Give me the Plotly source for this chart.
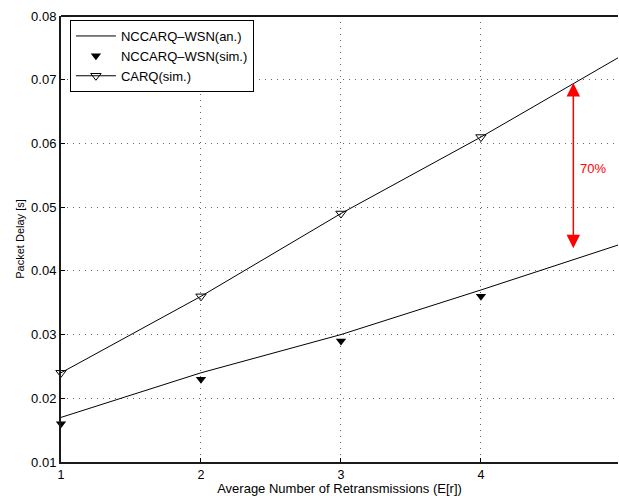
import plotly.graph_objects as go

x_vals = [1, 2, 3, 4, 5]
nccarq_an = [0.017, 0.024, 0.030, 0.037, 0.0442]
nccarq_sim = [0.016, 0.023, 0.029, 0.036, 0.043]
carq_sim = [0.024, 0.036, 0.049, 0.061, 0.0737]

x_ticks = [1, 2, 3, 4]
y_ticks = [0.01, 0.02, 0.03, 0.04, 0.05, 0.06, 0.07, 0.08]
y_tick_text = ["0.01", "0.02", "0.03", "0.04", "0.05", "0.06", "0.07", "0.08"]

arrow_x = 4.66
arrow_top = 0.0695
arrow_bottom = 0.0433
label_x = 4.80
label_y = 0.0561
label_text = "70%"

FONT = "Liberation Sans, Arial, Helvetica, sans-serif"

fig = go.Figure()
fig.add_trace(go.Scatter(
    x=x_vals, y=nccarq_an, mode="lines", name="NCCARQ–WSN(an.)",
    line=dict(color="black", width=1)))
fig.add_trace(go.Scatter(
    x=x_vals, y=nccarq_sim, mode="markers", name="NCCARQ–WSN(sim.)",
    marker=dict(symbol="triangle-down", size=9, color="black"),
    cliponaxis=False))
fig.add_trace(go.Scatter(
    x=x_vals, y=carq_sim, mode="lines+markers", name="CARQ(sim.)",
    line=dict(color="black", width=1),
    marker=dict(symbol="triangle-down-open", size=9, color="black",
                line=dict(color="black", width=1)),
    cliponaxis=False))

fig.add_annotation(
    x=arrow_x, y=arrow_top, ax=arrow_x, ay=arrow_bottom,
    xref="x", yref="y", axref="x", ayref="y",
    showarrow=True, arrowside="end+start", arrowhead=2,
    arrowsize=1.8, arrowwidth=1.5, arrowcolor="#ff0000", text="")
fig.add_annotation(
    x=label_x, y=label_y, xref="x", yref="y", text=label_text,
    showarrow=False, font=dict(color="#ff0000", size=13, family=FONT))

fig.update_layout(
    width=619, height=496,
    margin=dict(l=61, r=1, t=16, b=34),
    paper_bgcolor="white", plot_bgcolor="white",
    font=dict(family=FONT, size=13, color="black"),
    showlegend=True,
    legend=dict(x=0.016, y=0.991, xanchor="left", yanchor="top",
                bgcolor="white", bordercolor="black", borderwidth=1,
                font=dict(size=13, family=FONT), tracegroupgap=0,
                itemwidth=40),
)
fig.update_xaxes(
    range=[1, 4.979], tickvals=x_ticks, ticktext=[str(v) for v in x_ticks],
    ticks="inside", ticklen=4, tickcolor="black", tickwidth=1,
    showline=True, linecolor="#1a1a1a", linewidth=2, mirror=False,
    showgrid=True, gridcolor="#666666", gridwidth=1, griddash="1px,5px",
    zeroline=False,
    title=dict(text="Average Number of Retransmissions (E[r])", standoff=3,
               font=dict(size=13)),
    tickfont=dict(size=12.5))
fig.update_yaxes(
    range=[0.01, 0.08], tickvals=y_ticks, ticktext=y_tick_text,
    ticks="inside", ticklen=4, tickcolor="black", tickwidth=1,
    showline=True, linecolor="#1a1a1a", linewidth=2, mirror=False,
    showgrid=True, gridcolor="#666666", gridwidth=1, griddash="1px,5px",
    zeroline=False,
    title=dict(text="Packet Delay [s]", standoff=4, font=dict(size=11)),
    tickfont=dict(size=13))

# top border line
fig.add_shape(type="line", xref="paper", yref="paper", x0=0, x1=1, y0=1, y1=1,
              line=dict(color="#1a1a1a", width=2))

fig.write_html("out.html")
